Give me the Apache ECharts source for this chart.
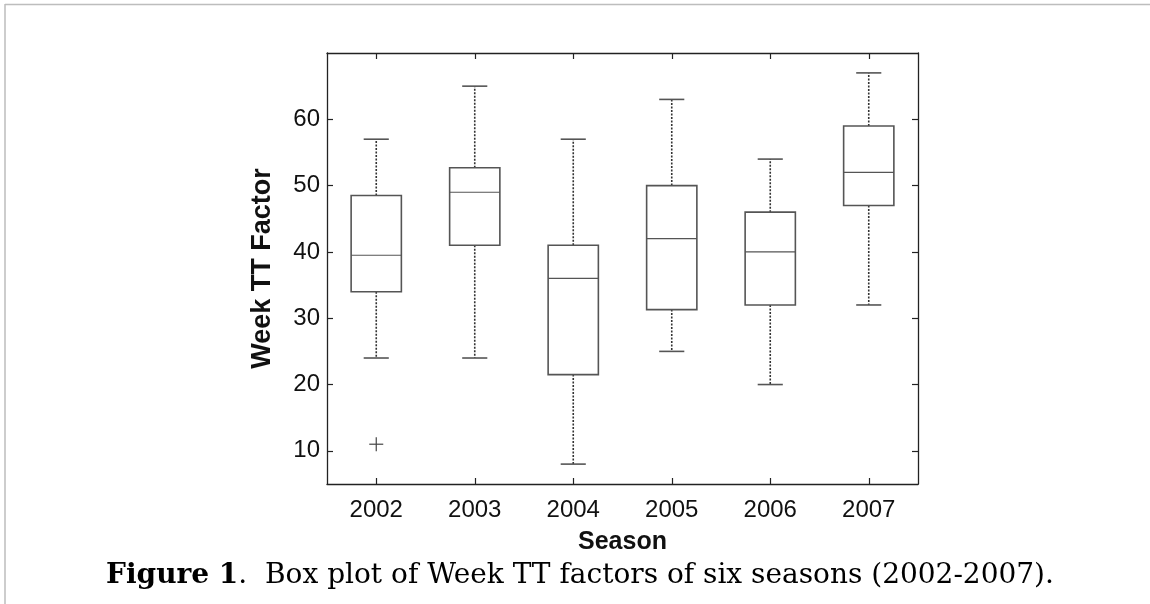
<!DOCTYPE html>
<html>
<head>
<meta charset="utf-8">
<script src="https://cdn.jsdelivr.net/npm/echarts@6/dist/echarts.min.js"></script>
<style>
html,body{margin:0;padding:0;background:#fff;}
#chart{width:1150px;height:604px;}
</style>
</head>
<body>
<div id="chart"></div>
<script>
// ---- data ----
const seasons = ['2002', '2003', '2004', '2005', '2006', '2007'];
const whiskerLow  = [24, 24, 8, 25, 20, 32];
const q1          = [34, 41, 21.5, 31.3, 32, 47];
const median      = [39.5, 49, 36, 42, 40, 52];
const q3          = [48.5, 52.7, 41, 50, 46, 59];
const whiskerHigh = [57, 65, 57, 63, 54, 67];
const outlierSeason = ['2002'];
const outlierValue  = [11];
const yTickValues = [10, 20, 30, 40, 50, 60];
const yMin = 5, yMax = 70;

const boxData = seasons.map((s, i) => [i, whiskerLow[i], q1[i], median[i], q3[i], whiskerHigh[i]]);
const outlierData = outlierSeason.map((s, i) => [seasons.indexOf(s), outlierValue[i]]);

const FONT = "'Liberation Sans', Arial, sans-serif";
const axisCol = '#222';
const boxCol = '#555';

function renderBox(params, api) {
  const x = api.value(0);
  const band = api.size([1, 0])[0];
  const bw = band * 0.51, cw = band * 0.255;
  const pLo = api.coord([x, api.value(1)]);
  const pQ1 = api.coord([x, api.value(2)]);
  const pMd = api.coord([x, api.value(3)]);
  const pQ3 = api.coord([x, api.value(4)]);
  const pHi = api.coord([x, api.value(5)]);
  const cx = pMd[0];
  const solid = {stroke: boxCol, lineWidth: 1.6, fill: null};
  const dotted = {stroke: '#333', lineWidth: 1.6, lineDash: [2, 1.5], fill: null};
  return {
    type: 'group',
    children: [
      {type: 'line', shape: {x1: cx, y1: pQ3[1], x2: cx, y2: pHi[1]}, style: dotted},
      {type: 'line', shape: {x1: cx, y1: pQ1[1], x2: cx, y2: pLo[1]}, style: dotted},
      {type: 'line', shape: {x1: cx - cw / 2, y1: pHi[1], x2: cx + cw / 2, y2: pHi[1]}, style: solid},
      {type: 'line', shape: {x1: cx - cw / 2, y1: pLo[1], x2: cx + cw / 2, y2: pLo[1]}, style: solid},
      {type: 'rect', shape: {x: cx - bw / 2, y: pQ3[1], width: bw, height: pQ1[1] - pQ3[1]}, style: solid},
      {type: 'line', shape: {x1: cx - bw / 2, y1: pMd[1], x2: cx + bw / 2, y2: pMd[1]}, style: {stroke: boxCol, lineWidth: 1.2}}
    ]
  };
}

function renderOutlier(params, api) {
  const p = api.coord([api.value(0), api.value(1)]);
  const h = 7;
  const st = {stroke: '#444', lineWidth: 1.2};
  return {
    type: 'group',
    children: [
      {type: 'line', shape: {x1: p[0] - h, y1: p[1], x2: p[0] + h, y2: p[1]}, style: st},
      {type: 'line', shape: {x1: p[0], y1: p[1] - h, x2: p[0], y2: p[1] + h}, style: st}
    ]
  };
}

const tickInside = {show: true, inside: true, length: 6, alignWithLabel: true, lineStyle: {color: axisCol, width: 1.2}};
const axLine = {show: true, onZero: false, lineStyle: {color: axisCol, width: 1.3}};

const chart = echarts.init(document.getElementById('chart'), null, {renderer: 'canvas'});
chart.setOption({
  animation: false,
  backgroundColor: '#fff',
  grid: {left: 327, top: 53, right: 232, bottom: 120, containLabel: false},
  xAxis: [
    {
      type: 'category', data: seasons, position: 'bottom', boundaryGap: true,
      axisLine: axLine, axisTick: tickInside,
      axisLabel: {color: '#111', fontFamily: FONT, fontSize: 24, margin: 14},
      splitLine: {show: false},
      name: 'Season', nameLocation: 'middle', nameGap: 46,
      nameTextStyle: {color: '#111', fontFamily: FONT, fontSize: 25, fontWeight: 'bold'}
    },
    {
      type: 'category', data: seasons, position: 'top', boundaryGap: true,
      axisLine: axLine, axisTick: tickInside, axisLabel: {show: false}, splitLine: {show: false}
    }
  ],
  yAxis: [
    {
      type: 'value', min: yMin, max: yMax, position: 'left',
      axisLine: axLine,
      axisTick: {show: true, inside: true, length: 6, customValues: yTickValues, lineStyle: {color: axisCol, width: 1.2}},
      axisLabel: {color: '#111', fontFamily: FONT, fontSize: 24, margin: 7, customValues: yTickValues},
      splitLine: {show: false},
      name: 'Week TT Factor', nameLocation: 'middle', nameRotate: 90, nameGap: 51,
      nameTextStyle: {color: '#111', fontFamily: FONT, fontSize: 27, fontWeight: 'bold'}
    },
    {
      type: 'value', min: yMin, max: yMax, position: 'right',
      axisLine: axLine,
      axisTick: {show: true, inside: true, length: 6, customValues: yTickValues, lineStyle: {color: axisCol, width: 1.2}},
      axisLabel: {show: false}, splitLine: {show: false}
    }
  ],
  series: [
    {type: 'custom', name: 'box', renderItem: renderBox, data: boxData, encode: {x: 0, y: [1, 2, 3, 4, 5]}, xAxisIndex: 0, yAxisIndex: 0, z: 5},
    {type: 'custom', name: 'outlier', renderItem: renderOutlier, data: outlierData, encode: {x: 0, y: 1}, xAxisIndex: 0, yAxisIndex: 0, z: 5}
  ],
  graphic: [
    {type: 'line', shape: {x1: 5, y1: 4.5, x2: 1150, y2: 4.5}, style: {stroke: '#bdbdbd', lineWidth: 1.5}},
    {type: 'line', shape: {x1: 5, y1: 4, x2: 5, y2: 604}, style: {stroke: '#bdbdbd', lineWidth: 1.5}},
    {
      type: 'text', x: 580, y: 590,
      style: {
        rich: {
          b: {fontFamily: "'DejaVu Serif', serif", fontWeight: 'bold', fontSize: 28, fill: '#000'},
          n: {fontFamily: "'DejaVu Serif', serif", fontSize: 28, fill: '#000'}
        },
        text: '{b|Figure 1}{n|.  Box plot of Week TT factors of six seasons (2002-2007).}',
        align: 'center', verticalAlign: 'bottom'
      }
    }
  ]
});
</script>
</body>
</html>
